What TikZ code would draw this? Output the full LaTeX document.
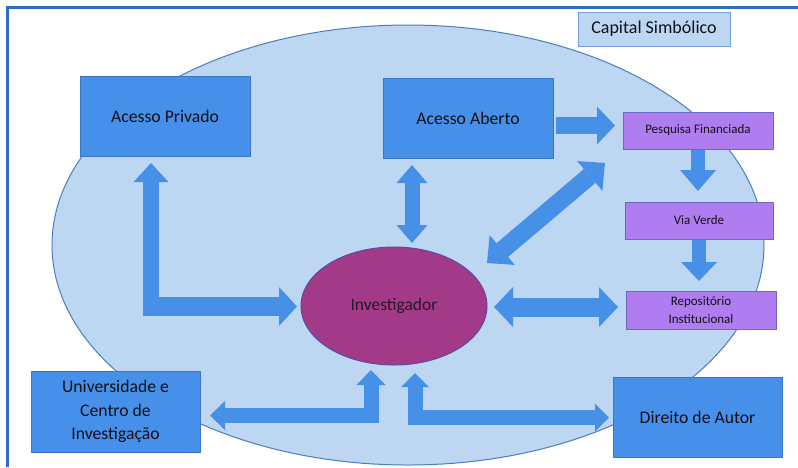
\documentclass[tikz,border=0pt]{standalone}
\usepackage{fontspec}
\setmainfont{Carlito}
\usepackage{xcolor}
\usetikzlibrary{arrows.meta,shapes.geometric}

\definecolor{campo}{HTML}{BDD7F3}
\definecolor{campoborda}{HTML}{4C7DBE}
\definecolor{azulcaixa}{HTML}{4690EA}
\definecolor{azulborda}{HTML}{3A76C4}
\definecolor{roxocaixa}{HTML}{B07DF0}
\definecolor{roxoborda}{HTML}{6A6AC6}
\definecolor{invcor}{HTML}{A23A88}
\definecolor{invborda}{HTML}{5A4AA6}
\definecolor{seta}{HTML}{4690E8}
\definecolor{moldura}{HTML}{2F6EC0}
\definecolor{texto}{HTML}{101018}

\tikzset{
  bloco/.style={draw=azulborda, fill=azulcaixa, line width=0.8pt, inner sep=0pt, outer sep=0pt,
    align=center, text=texto, font=\fontsize{17.7}{23.5}\selectfont},
  roxo/.style={draw=roxoborda, fill=roxocaixa, line width=0.8pt, inner sep=0pt, outer sep=0pt,
    minimum width=150pt, minimum height=37pt, align=center, text=texto, font=\fontsize{13}{18.5}\selectfont},
  barrow/.style n args={3}{draw=seta, line width=#1,
    arrows={-Triangle[width=#2,length=#3,line width=0pt]}},
  dbarrow/.style n args={3}{draw=seta, line width=#1, line join=miter,
    arrows={Triangle[width=#2,length=#3,line width=0pt]-Triangle[width=#2,length=#3,line width=0pt]}}
}

\begin{document}
\begin{tikzpicture}[x=1pt,y=1pt,yscale=-1,xscale=1]
\useasboundingbox (0,0) rectangle (798,467);
\fill[white] (0,0) rectangle (798,467);

%Shape: Ellipse (fundo)
\draw[draw=campoborda, fill=campo, line width=1pt] (408,245) ellipse [x radius=356, y radius=220];
%Straight Lines (moldura)
\draw[moldura, line width=3pt] (7,467) -- (7,7) -- (798,7);

% Text Node
\node[draw=azulborda!70, fill=campo, line width=1pt, inner sep=0pt, minimum width=152pt, minimum height=34pt,
  text=texto, font=\fontsize{18}{22}\selectfont] (cap) at (654,29) {Capital Simbólico};
% Text Node
\node[bloco, minimum width=170pt, minimum height=80pt] (priv) at (165,116) {Acesso Privado};
% Text Node
\node[bloco, minimum width=170pt, minimum height=80pt] (aber) at (468,118) {Acesso Aberto};
% Text Node
\node[bloco, minimum width=169pt, minimum height=81pt] (univ) at (115.5,411.5) {Universidade e\\Centro de\\Investigação};
% Text Node
\node[bloco, minimum width=169pt, minimum height=80pt] (dir) at (697.5,417) {Direito de Autor};
% Text Node
\node[roxo] (pesq) at (698,130.5) {Pesquisa Financiada};
% Text Node
\node[roxo, minimum width=148pt] (via) at (699,220.5) {Via Verde};
% Text Node
\node[roxo, minimum height=38pt] (repo) at (701,310) {Repositório\\Institucional};
%Shape: Ellipse
\node[ellipse, draw=invborda, fill=invcor, line width=1pt, inner sep=0pt, outer sep=0pt,
  minimum width=186pt, minimum height=118pt, text=texto!85!invcor,
  font=\fontsize{17.5}{22}\selectfont] (inv) at (394,306) {Investigador};

% pontos das setas
\coordinate (kA) at (151,316);
\coordinate (kB) at (159,306.5);
\coordinate (kC) at (412,0);
\coordinate (kD) at (0,125.5);
\coordinate (kE1) at (487,263);
\coordinate (kE2) at (605,163);
\coordinate (kH) at (0,307);
\coordinate (kI) at (415,417.5);
\coordinate (kJ) at (371,415.5);

%Block Arrows
\draw[barrow={16pt}{35pt}{19pt}, shorten >=7pt] (kA) -- (kA |- priv.south);
\draw[barrow={19pt}{39pt}{18pt}, shorten >=4pt] (kB) -- (kB -| inv.west);
\draw[dbarrow={15pt}{31pt}{18pt}, shorten <=7pt, shorten >=4pt] (aber.south -| kC) -- (inv.north -| kC);
\draw[barrow={17pt}{38pt}{18pt}, shorten <=3pt, shorten >=8pt] (aber.east |- kD) -- (pesq.west |- kD);
\draw[dbarrow={18pt}{39pt}{20pt}] (kE1) -- (kE2);
\draw[barrow={14pt}{36pt}{21pt}, shorten <=1pt, shorten >=11pt] (pesq.south) -- (pesq.south |- via.north);
\draw[barrow={14pt}{36pt}{19pt}, shorten <=1pt, shorten >=10pt] (via.south) -- (via.south |- repo.north);
\draw[dbarrow={19pt}{40pt}{19pt}, shorten <=7pt, shorten >=8pt] (inv.east |- kH) -- (repo.west |- kH);
\draw[dbarrow={15pt}{28pt}{14pt}, shorten <=8pt, shorten >=4pt] (inv.south -| kI) -- (kI) -- (dir.west |- kI);
\draw[dbarrow={15pt}{29pt}{15pt}, shorten <=5pt, shorten >=10pt] (inv.south -| kJ) -- (kJ) -- (univ.east |- kJ);

\end{tikzpicture}
\end{document}
